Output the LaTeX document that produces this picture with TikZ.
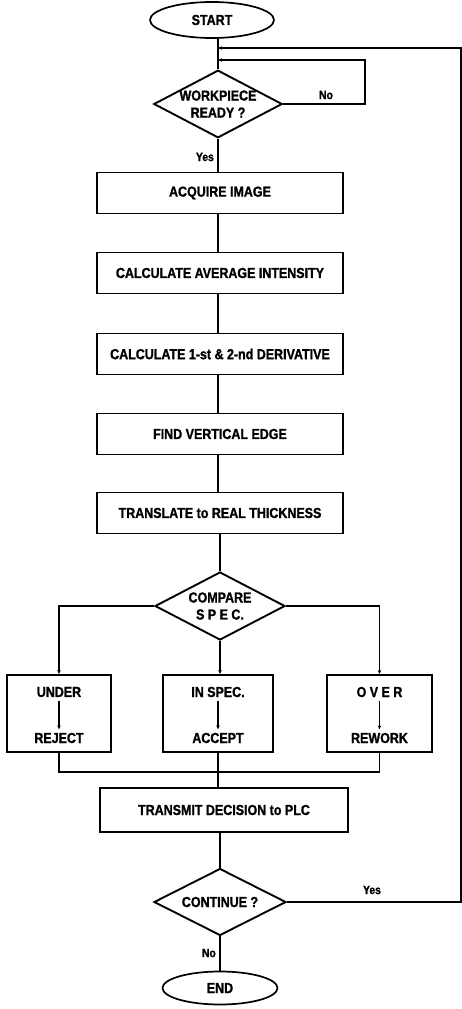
\documentclass[tikz,border=0pt]{standalone}
\usepackage{fontspec}
\setmainfont{Liberation Sans}[FakeStretch=0.86,BoldFeatures={FakeBold=1.2}]
\usetikzlibrary{shapes.geometric,arrows.meta}
\begin{document}
\begin{tikzpicture}[x=1pt,y=1pt,
  every node/.style={font=\fontsize{14.5}{17}\selectfont\bfseries},
  procbox/.style={draw,line width=1.9pt,minimum width=246pt,minimum height=41pt,inner sep=0pt},
  outbox/.style={draw,line width=1.9pt,minimum height=77pt,inner sep=0pt},
  decision/.style={draw,diamond,line width=1.9pt,aspect=1.9,inner sep=0pt,align=center},
  term/.style={draw,ellipse,line width=1.7pt,inner sep=0pt},
  conn/.style={line width=1.4pt},
  tip/.style={-{Stealth[length=4pt,width=3.5pt]}},
  lbl/.style={font=\fontsize{12}{14}\selectfont\bfseries,inner sep=0pt}
]
\useasboundingbox (0,0) rectangle (462,-1009);

% terminals and decisions
\node[term,minimum width=124pt,minimum height=36pt] (start) at (212,-20) {START};
\node[decision,minimum width=128pt,minimum height=67pt] (wp) at (218,-104) {WORKPIECE\\READY ?};

% process chain
\node[procbox] (acq) at (220,-193) {ACQUIRE IMAGE};
\node[procbox] (avg) at (220,-273) {CALCULATE AVERAGE INTENSITY};
\node[procbox] (der) at (220,-354) {CALCULATE 1-st \& 2-nd DERIVATIVE};
\node[procbox] (edge) at (220,-434) {FIND VERTICAL EDGE};
\node[procbox] (thk) at (220,-513) {TRANSLATE to REAL THICKNESS};

\node[decision,minimum width=130pt,minimum height=68pt] (cmp) at (220,-606) {COMPARE\\S P E C.};

\node[outbox,minimum width=104pt] (under) at (59,-713.5) {};
\node[outbox,minimum width=110pt] (inspec) at (218,-713.5) {};
\node[outbox,minimum width=105pt] (over) at (379.5,-713.5) {};

\node (ut) at (59,-692) {UNDER};
\node (ub) at (59,-738) {REJECT};
\node (it) at (218,-692) {IN SPEC.};
\node (ib) at (218,-738) {ACCEPT};
\node (ot) at (379.5,-692) {O V E R};
\node (ob) at (379.5,-738) {REWORK};

\node[procbox,minimum width=248pt,minimum height=44pt] (tx) at (224,-810) {TRANSMIT DECISION to PLC};
\node[decision,minimum width=132pt,minimum height=67pt] (cont) at (220,-902) {CONTINUE ?};
\node[term,minimum width=115pt,minimum height=33pt] (end) at (220,-988) {END};

% junction coordinates
\coordinate (j1) at (218,-48);
\coordinate (j2) at (218,-60);
\coordinate (rtop) at (461,-48);
\coordinate (rbot) at (461,-902);
\coordinate (nloop) at (365,-104);
\coordinate (merge) at (218,-772);

% main flow
\draw[conn] (wp.north |- start.south) -- (wp.north);
\draw[conn] (wp.south) -- (wp.south |- acq.north);
\draw[conn] (wp.south |- acq.south) -- (wp.south |- avg.north);
\draw[conn] (wp.south |- avg.south) -- (wp.south |- der.north);
\draw[conn] (wp.south |- der.south) -- (wp.south |- edge.north);
\draw[conn] (wp.south |- edge.south) -- (wp.south |- thk.north);
\draw[conn] (cmp.north |- thk.south) -- (cmp.north);

% No loop
\draw[conn,tip] (wp.east) -- (nloop) -- (nloop |- j2) -- (j2);
% Yes loop back
\draw[conn,tip] (cont.east) -- (rbot) -- (rtop) -- (j1);

% branches
\draw[conn,tip] (cmp.west) -| (under.north);
\draw[conn,tip] (cmp.south) -- (cmp.south |- inspec.north);
\draw[conn,tip] (cmp.east) -| (over.north);

% inner arrows
\draw[conn,tip] (ut.south) -- (ub.north);
\draw[conn,tip] (it.south) -- (ib.north);
\draw[conn,tip] (ot.south) -- (ob.north);

% merge
\draw[conn] (under.south) |- (merge) -| (over.south);
\draw[conn] (inspec.south) -- (inspec.south |- tx.north);
\draw[conn] (cont.north |- tx.south) -- (cont.north);
\draw[conn] (cont.south) -- (end.north);

% labels
\node[lbl,anchor=east] at (214,-157) {Yes};
\node[lbl] at (326,-95) {No};
\node[lbl] at (372,-890) {Yes};
\node[lbl,anchor=east] at (216,-953) {No};
\end{tikzpicture}
\end{document}
